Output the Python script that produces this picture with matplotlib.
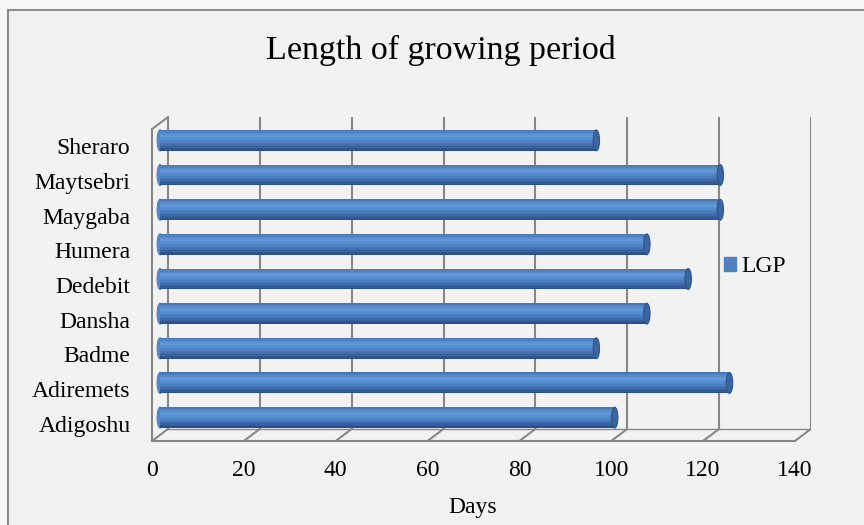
import matplotlib.pyplot as plt
from matplotlib.patches import Ellipse, Patch, Rectangle
from matplotlib.colors import LinearSegmentedColormap

stations = ['Adigoshu', 'Adiremets', 'Badme', 'Dansha', 'Dedebit',
            'Humera', 'Maygaba', 'Maytsebri', 'Sheraro']
lgp = [99, 124, 95, 106, 115, 106, 122, 122, 95]
xticks = [0, 20, 40, 60, 80, 100, 120, 140]

plt.rcParams['font.family'] = ['Liberation Serif', 'DejaVu Serif']

# depth of the fake 3d box, in data units
DX = 3.5
DY = 0.35
BAR_H = 0.6
N_STRIP = 14
grid_col = '#878787'
FS = 17

cyl = LinearSegmentedColormap.from_list('cyl', [(0, '#4674b6'), (0.3, '#629ada'),
                                               (0.6, '#4b7ec3'), (1, '#2a4c7e')])

fig = plt.figure(figsize=(8.64, 5.25), dpi=100, facecolor='#f7f7f7')
# chart area border, cut off at right and bottom like the screenshot
fig.patches.append(Rectangle((8 / 864, -0.1), 1, 1 - 10 / 525 + 0.1,
                             transform=fig.transFigure, facecolor='#f2f2f2',
                             edgecolor='#8c8c8c', lw=1.5, zorder=-5))
ax = fig.add_axes([152 / 864, 1 - 441 / 525, 659 / 864, 324 / 525])
ax.set_facecolor('none')
n = len(stations)
ymin, ymax = -0.5, n - 0.5
ax.set_xlim(0, 140 + DX)
ax.set_ylim(ymin, ymax + DY)

# back wall gridlines + floor
for x in xticks:
    ax.plot([x + DX, x + DX], [ymin + DY, ymax + DY], color=grid_col, lw=1.5, zorder=1)
    ax.plot([x, x + DX], [ymin, ymin + DY], color=grid_col, lw=1.5, zorder=1)
ax.plot([0, 140], [ymin, ymin], color=grid_col, lw=1.5, zorder=1, clip_on=False)
ax.plot([DX, 140 + DX], [ymin + DY, ymin + DY], color=grid_col, lw=1, zorder=1)
# left wall
ax.plot([0, 0], [ymin, ymax], color=grid_col, lw=1.5, zorder=1, clip_on=False)
ax.plot([0, DX], [ymax, ymax + DY], color=grid_col, lw=1.5, zorder=1, clip_on=False)

# cylinders
ox, oy = DX / 2, DY / 2
for i, v in enumerate(lgp):
    yc = i + oy
    for k in range(N_STRIP):
        t = (k + 0.5) / N_STRIP
        y0 = yc + BAR_H / 2 - (k + 1) * BAR_H / N_STRIP
        ax.barh(y0, v, left=ox, height=BAR_H / N_STRIP * 1.05, align='edge',
                color=cyl(t), lw=0, zorder=3)
    ax.add_patch(Ellipse((ox, yc), 1.2, BAR_H, color='#5286c8', zorder=2.9))
    ax.add_patch(Ellipse((ox + v, yc), 1.4, BAR_H, facecolor='#3b65a0',
                         edgecolor='#2f5488', lw=0.8, zorder=4))

ax.set_xticks(xticks)
ax.set_yticks(range(n))
ax.set_yticklabels(stations)
ax.tick_params(length=0, labelsize=FS, colors='black')
ax.tick_params(axis='x', pad=13.5)
ax.tick_params(axis='y', pad=15.5)
for s in ax.spines.values():
    s.set_visible(False)
ax.set_xlabel('Days', fontsize=FS)
ax.xaxis.set_label_coords((473 - 152) / 659, -0.172)

fig.text(0.51, 1 - 50 / 525, 'Length of growing period', ha='center', va='center',
         fontsize=24.5)
fig.legend(handles=[Patch(color='#4f81bd')], labels=['LGP'], frameon=False,
           loc='center left', bbox_to_anchor=(724 / 864, 1 - 267 / 525), fontsize=FS,
           handlelength=0.5, handleheight=0.5, handletextpad=0.22, borderpad=0,
           borderaxespad=0)

fig.savefig('out.png', dpi=100, facecolor=fig.get_facecolor())
